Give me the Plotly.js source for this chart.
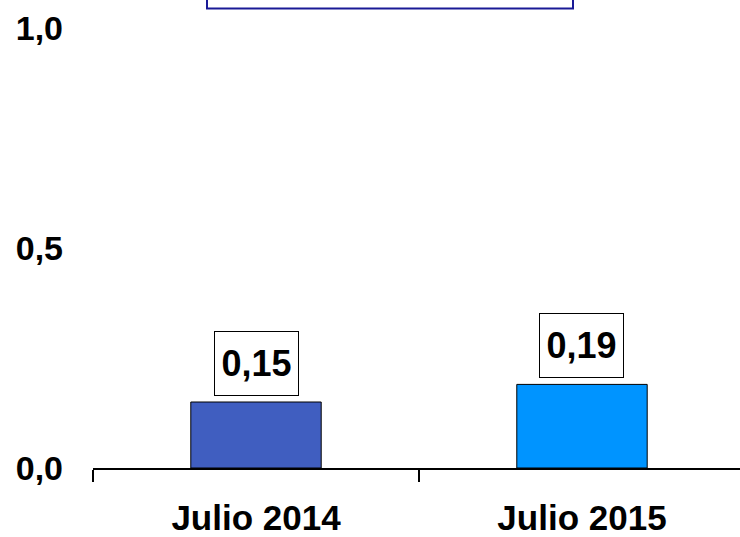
<!DOCTYPE html>
<html>
<head>
<meta charset="utf-8">
<script src="https://cdn.plot.ly/plotly-3.0.1.min.js"></script>
<style>
html,body{margin:0;padding:0;background:#fff;}
#chart{width:740px;height:537px;}
</style>
</head>
<body>
<div id="chart"></div>
<script>
const categories = ["Julio 2014", "Julio 2015"];
const values = [0.15, 0.19];
const barColors = ["#405EC0", "#0094FF"];
const yTickVals = [0, 0.5, 1.0];
const yTickText = ["0,0", "0,5", "1,0"];

const fmt = v => v.toFixed(2).replace(".", ",");

const trace = {
  type: "bar",
  x: categories,
  y: values,
  marker: {color: barColors, line: {color: "#000000", width: 1}},
  hoverinfo: "none",
  showlegend: false
};

const annotations = categories.map((c, i) => ({
  x: c, y: values[i], xref: "x", yref: "y",
  text: fmt(values[i]),
  showarrow: false,
  yanchor: "bottom",
  yshift: 6,
  bgcolor: "#ffffff",
  bordercolor: "#000000",
  borderwidth: 1,
  borderpad: 0,
  width: 83,
  height: 63,
  font: {family: "Liberation Sans, Arial, sans-serif", size: 36, weight: "bold", color: "#000000"}
}));

const layout = {
  width: 740, height: 537,
  margin: {l: 93, r: 0, t: 28, b: 69, pad: 0},
  paper_bgcolor: "#ffffff",
  plot_bgcolor: "#ffffff",
  separators: ",.",
  bargap: 0.6,
  showlegend: false,
  xaxis: {
    type: "category",
    range: [-0.5, 1.4847],
    showline: true, linecolor: "#000000", linewidth: 2,
    ticks: "outside", tickson: "boundaries", ticklen: 12, tickwidth: 2, tickcolor: "#000000",
    showgrid: false, zeroline: false,
    ticklabelstandoff: 18,
    tickfont: {family: "Liberation Sans, Arial, sans-serif", size: 35, weight: "bold", color: "#000000"},
    fixedrange: true
  },
  yaxis: {
    range: [0, 1.0],
    tickvals: yTickVals, ticktext: yTickText,
    showline: false, showgrid: false, zeroline: false, ticks: "",
    ticklabelstandoff: 29,
    tickfont: {family: "Liberation Sans, Arial, sans-serif", size: 34, weight: "bold", color: "#000000"},
    fixedrange: true
  },
  shapes: [{
    type: "rect", xref: "paper", yref: "paper",
    x0: (207 - 93) / 647, x1: (573 - 93) / 647,
    y0: (468.5 - 9) / 440, y1: 1.3,
    line: {color: "#1a1a96", width: 2},
    fillcolor: "#ffffff",
    layer: "above"
  }],
  annotations: annotations
};

Plotly.newPlot("chart", [trace], layout, {displayModeBar: false, staticPlot: true});
</script>
</body>
</html>
